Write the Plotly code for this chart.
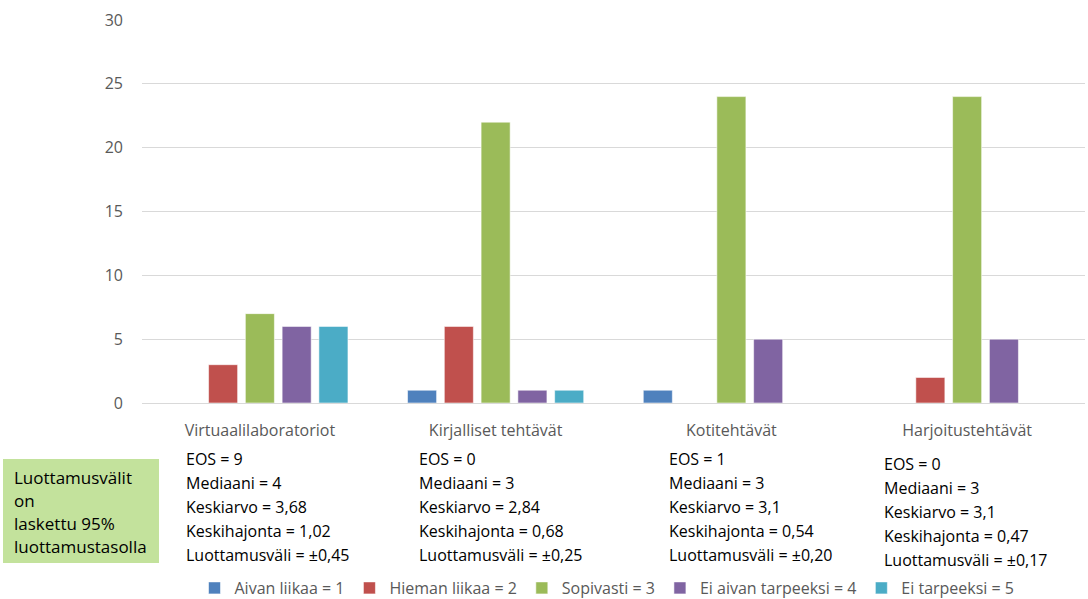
import plotly.graph_objects as go

# Survey categories and answer counts per response option
categories = ["Virtuaalilaboratoriot", "Kirjalliset tehtävät", "Kotitehtävät", "Harjoitustehtävät"]
series_names = ["Aivan liikaa = 1", "Hieman liikaa = 2", "Sopivasti = 3",
                "Ei aivan tarpeeksi = 4", "Ei tarpeeksi = 5"]
aivan_liikaa = [0, 1, 1, 0]
hieman_liikaa = [3, 6, 0, 2]
sopivasti = [7, 22, 24, 24]
ei_aivan_tarpeeksi = [6, 1, 5, 5]
ei_tarpeeksi = [6, 1, 0, 0]
series_values = [aivan_liikaa, hieman_liikaa, sopivasti, ei_aivan_tarpeeksi, ei_tarpeeksi]
colors = ["#4F81BD", "#C0504D", "#9BBB59", "#8064A2", "#4BACC6"]

# Summary statistics printed under each category
eos = ["9", "0", "1", "0"]
mediaani = ["4", "3", "3", "3"]
keskiarvo = ["3,68", "2,84", "3,1", "3,1"]
keskihajonta = ["1,02", "0,68", "0,54", "0,47"]
luottamusvali = ["±0,45", "±0,25", "±0,20", "±0,17"]

W, H = 1088, 599
L, R, T, B = 142, 3, 20, 196
PW, PH = W - L - R, H - T - B
FONT = "Open Sans, Noto Sans, sans-serif"

fig = go.Figure()
for name, vals, col in zip(series_names, series_values, colors):
    fig.add_trace(go.Bar(
        x=categories, y=vals, name=name,
        marker=dict(color=col, line=dict(color="rgba(255,255,255,0.55)", width=1)),
    ))

def px_x(px):
    return (px - L) / PW

def px_y(py):
    return (H - B - py) / PH

annotations = []
# statistic blocks: left x, first line centre y
block_pos = [(184, 459), (417, 459), (667, 459), (882, 464)]
line_step = 24
for i, (bx, by) in enumerate(block_pos):
    lines = [
        f"EOS = {eos[i]}",
        f"Mediaani = {mediaani[i]}",
        f"Keskiarvo = {keskiarvo[i]}",
        f"Keskihajonta = {keskihajonta[i]}",
        f"Luottamusväli = {luottamusvali[i]}",
    ]
    for j, txt in enumerate(lines):
        annotations.append(dict(
            text=txt, xref="paper", yref="paper",
            x=px_x(bx), y=px_y(by + j * line_step),
            xanchor="left", yanchor="middle", showarrow=False,
            font=dict(family=FONT, size=16, color="#000000"),
        ))

# note box on the left
note_lines = ["Luottamusvälit", "on", "laskettu 95%", "luottamustasolla"]
for j, txt in enumerate(note_lines):
    annotations.append(dict(
        text=txt, xref="paper", yref="paper",
        x=px_x(12), y=px_y(477 + j * 23),
        xanchor="left", yanchor="middle", showarrow=False,
        font=dict(family=FONT, size=17, color="#000000"),
    ))

shapes = [dict(
    type="rect", xref="paper", yref="paper",
    x0=px_x(3), x1=px_x(159), y0=px_y(563), y1=px_y(459),
    fillcolor="#C3E29C", line=dict(width=0), layer="below",
)]

fig.update_layout(
    width=W, height=H,
    margin=dict(l=L, r=R, t=T, b=B, autoexpand=False),
    paper_bgcolor="white", plot_bgcolor="white",
    barmode="group", bargap=0.22, bargroupgap=0.21,
    font=dict(family=FONT, size=16, color="#595959"),
    xaxis=dict(
        showgrid=False, showline=True, linecolor="#D9D9D9", linewidth=1,
        ticks="", ticklabelstandoff=13,
        tickfont=dict(size=16, color="#595959"),
    ),
    yaxis=dict(
        range=[0, 30], dtick=5, showgrid=True, gridcolor="#D9D9D9", gridwidth=1,
        zeroline=False, showline=False, ticks="", ticklabelstandoff=18,
        tickfont=dict(size=16, color="#595959"),
    ),
    legend=dict(
        orientation="h", xref="paper", yref="paper",
        x=px_x(607), xanchor="center", y=px_y(605), yanchor="bottom",
        font=dict(size=16, color="#595959"), bgcolor="rgba(0,0,0,0)",
        itemwidth=30, traceorder="normal",
    ),
    annotations=annotations,
    shapes=shapes,
)

fig.write_html("out.html")
